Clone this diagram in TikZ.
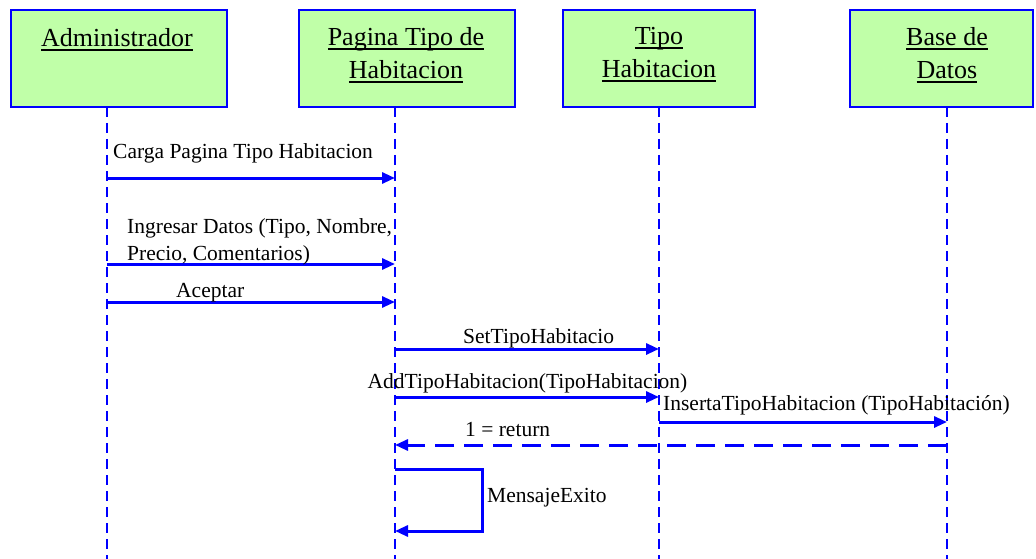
\documentclass[tikz,border=0pt]{standalone}
\usepackage{fontspec}
\setmainfont{Liberation Serif}
\usetikzlibrary{arrows.meta}
\definecolor{boxgreen}{RGB}{192,255,168}
\definecolor{lineblue}{RGB}{0,0,255}
\newsavebox\ulbox
\newcommand{\ulx}[1]{\sbox\ulbox{#1}\rlap{\rule[-0.17em]{\wd\ulbox}{0.075em}}\usebox\ulbox}
\begin{document}
\begin{tikzpicture}[x=1pt,y=-1pt,
  objbox/.style={draw=lineblue, fill=boxgreen, line width=2.8pt, inner sep=0pt},
  objtext/.style={font=\fontsize{26}{33}\selectfont, align=center, inner sep=0pt, anchor=north, text=black},
  lifeline/.style={draw=lineblue, line width=2.4pt, dash pattern=on 10pt off 6pt},
  msg/.style={draw=lineblue, line width=3pt, line join=miter, -{Triangle[length=13pt,width=11pt]}},
  retmsg/.style={msg, dash pattern=on 19pt off 10pt},
  lbl/.style={font=\fontsize{21.5}{27}\selectfont, inner sep=0pt, text=black, align=left}]
\useasboundingbox (0,0) rectangle (1036,559);

% object boxes
\node[objbox, minimum width=216pt, minimum height=97pt] (admin) at (119,58.5) {};
\node[objbox, minimum width=216pt, minimum height=97pt] (pagina) at (407,58.5) {};
\node[objbox, minimum width=192pt, minimum height=97pt] (tipo) at (659,58.5) {};
\node[objbox, minimum width=183pt, minimum height=97pt] (base) at (941.5,58.5) {};

\node[objtext] (admint) at (117,28.7) {\ulx{Administrador}};
\node[objtext] (paginat) at (406,27.2) {\ulx{Pagina Tipo de}\\\ulx{Habitacion}};
\node[objtext] (tipot) at (659,27.2) {\ulx{Tipo}\\\ulx{Habitacion}};
\node[objtext] (baset) at (947,27.2) {\ulx{Base de}\\\ulx{Datos}};

% lifelines
\coordinate (la) at (107,107);  \coordinate (la-end) at (107,559);
\coordinate (lp) at (395,107);  \coordinate (lp-end) at (395,559);
\coordinate (lt) at (659,107);  \coordinate (lt-end) at (659,559);
\coordinate (lb) at (947,107);  \coordinate (lb-end) at (947,559);
\draw[lifeline] (la) -- (la-end);
\draw[lifeline] (lp) -- (lp-end);
\draw[lifeline] (lt) -- (lt-end);
\draw[lifeline] (lb) -- (lb-end);

% message end points
\coordinate (m1a) at (107,178); \coordinate (m1b) at (395,178);
\coordinate (m2a) at (107,264); \coordinate (m2b) at (395,264);
\coordinate (m3a) at (107,302); \coordinate (m3b) at (395,302);
\coordinate (m4a) at (395,349); \coordinate (m4b) at (659,349);
\coordinate (m5a) at (395,397); \coordinate (m5b) at (659,397);
\coordinate (m6a) at (659,422); \coordinate (m6b) at (947,422);
\coordinate (m7a) at (947,445); \coordinate (m7b) at (395,445);
\coordinate (m8a) at (395,469); \coordinate (m8c) at (482,469);
\coordinate (m8d) at (482,531);  \coordinate (m8b) at (395,531);

\draw[msg] (m1a) -- (m1b);
\draw[msg] (m2a) -- (m2b);
\draw[msg] (m3a) -- (m3b);
\draw[msg] (m4a) -- (m4b);
\draw[msg] (m5a) -- (m5b);
\draw[msg] (m6a) -- (m6b);
\draw[retmsg] (m7a) -- (m7b);
\draw[msg] (m8a) -- (m8c) -- (m8d) -- (m8b);

% labels
\node[lbl, anchor=base west] (t1) at (113,159) {Carga Pagina Tipo Habitacion};
\node[lbl, anchor=base west] (t2) at (127,233) {Ingresar Datos (Tipo, Nombre,};
\node[lbl, anchor=base west] (t2b) at (127,260) {Precio, Comentarios)};
\node[lbl, anchor=base west] (t3) at (176,297) {Aceptar};
\node[lbl, anchor=base west] (t4) at (463,343) {SetTipoHabitacio};
\node[lbl, anchor=base] (t5) at (527.5,388) {AddTipoHabitacion(TipoHabitacion)};
\node[lbl, anchor=base west] (t6) at (663,410) {InsertaTipoHabitacion (TipoHabitación)};
\node[lbl, anchor=base west] (t7) at (465,436) {1 = return};
\node[lbl, anchor=base west] (t8) at (487,502) {MensajeExito};
\end{tikzpicture}
\end{document}
